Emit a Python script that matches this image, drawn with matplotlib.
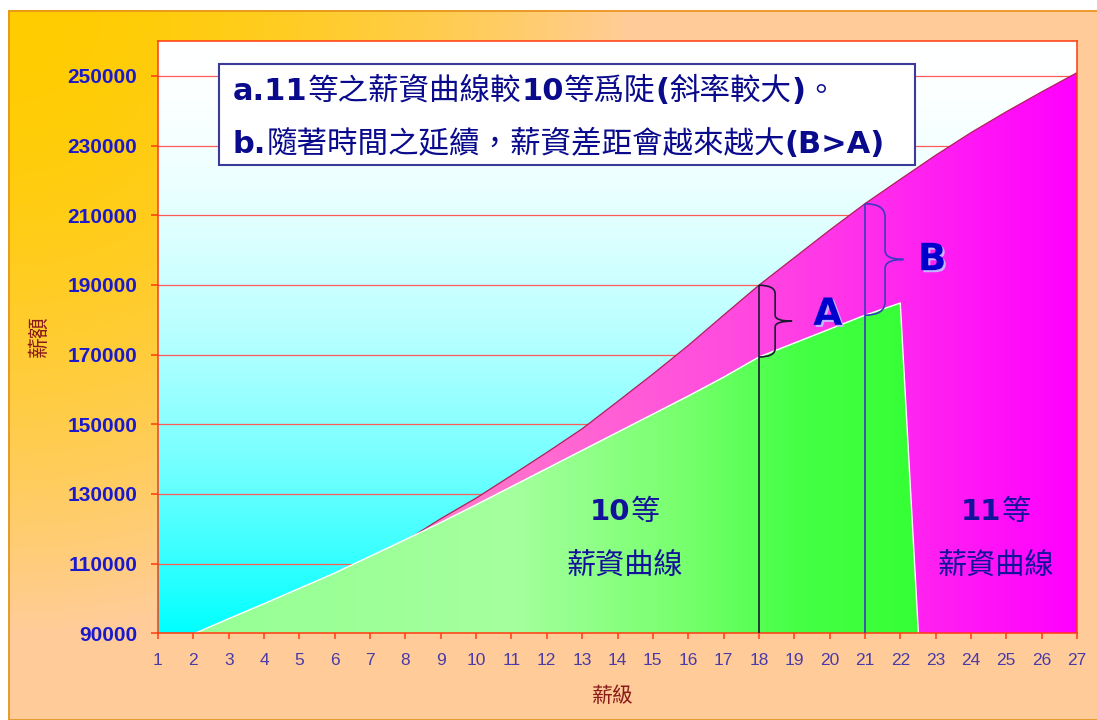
import numpy as np
import matplotlib
matplotlib.use("Agg")
import matplotlib.pyplot as plt
import matplotlib.patheffects as pe
from matplotlib.patches import Rectangle, PathPatch, Polygon
from matplotlib.path import Path

CJK = ['Noto Sans CJK TC', 'DejaVu Sans']
plt.rcParams['font.family'] = CJK

# salary grade (薪級) and monthly pay (薪額) for the two ranks
grades = list(range(1, 28))
pay_rank10 = [86000, 89800, 94200, 98500, 102900, 107300, 112100, 116900, 121800,
              126900, 132100, 137300, 142500, 147700, 152900, 158100, 163500,
              169300, 173300, 177300, 181300, 184800, 0, 0, 0, 0, 0]
pay_rank11 = [85000, 89000, 93500, 97800, 102300, 106800, 111500, 116500, 122900,
              128800, 135300, 141900, 148700, 156500, 164400, 172600, 181300,
              189900, 197800, 205700, 213300, 220300, 227200, 233700, 239700,
              245400, 250900]
gap_grades = [18, 21]          # where the gaps A and B are measured
gap_labels = ['A', 'B']
y_ticks = list(range(90000, 260000, 20000))

W, H = 1097, 720
fig = plt.figure(figsize=(W / 100, H / 100), dpi=100)
fig.patch.set_facecolor('white')

# outer chart area: gold corner fading to peach
yy, xx = np.mgrid[0:H, 0:W]
t = np.clip(np.hypot(xx - 8, yy - 10) / 620.0, 0, 1) ** 1.8
gold = np.array([255, 204, 0.0])
peach = np.array([255, 204, 153.0])
bg = gold + (peach - gold) * t[..., None]
bg[(xx < 8) | (yy < 10)] = 255
fig.figimage(bg.astype(np.uint8), xo=0, yo=0, origin='upper', zorder=-2)
fig.add_artist(Rectangle((8.5 / W, 0), 1, (H - 10.5) / H, transform=fig.transFigure,
                         fill=False, edgecolor='#e8901c', lw=1.2, zorder=-1))

ax = fig.add_axes([158 / W, (H - 633.3) / H, 919 / W, 592.3 / H])
ax.set_zorder(2)
ax.set_facecolor('none')
x0, x1, y0, y1 = 1, 27, 90000, 260000

# plot area: cyan at the bottom fading to white at the top
f = np.linspace(0, 1, 256)
col = np.stack([255 * (1 - (1 - f) ** 1.8), np.full_like(f, 255), np.full_like(f, 255)], axis=1)
ax.imshow(col[:, None, :] / 255.0, extent=[x0, x1, y0, y1],
          origin='lower', aspect='auto', zorder=0, interpolation='bilinear')


def gradient_area(xs, ys, stops_x, stops_rgb, z):
    gx = np.linspace(x0, x1, 512)
    rgb = np.stack([np.interp(gx, stops_x, [c[i] for c in stops_rgb]) for i in range(3)], axis=1)
    img = ax.imshow(rgb[None, :, :] / 255.0, extent=[x0, x1, 0, y1], origin='lower',
                    aspect='auto', zorder=z, interpolation='bilinear')
    verts = [(xs[0], 0)] + list(zip(xs, ys)) + [(xs[-1], 0)]
    poly = Polygon(verts, closed=True, facecolor='none', edgecolor='none', transform=ax.transData)
    img.set_clip_path(poly)
    return img


gradient_area(grades, pay_rank11, [1, 9, 18, 27],
              [(255, 175, 195), (255, 125, 200), (255, 70, 225), (255, 0, 255)], 1)
ax.plot(grades, pay_rank11, color='#b0205a', lw=0.9, zorder=1.5)
gradient_area(grades, pay_rank10, [1, 6, 11, 16, 19, 23],
              [(150, 255, 150), (155, 255, 150), (165, 255, 158), (118, 255, 108),
               (70, 255, 70), (50, 255, 50)], 2)
ax.plot(grades, pay_rank10, color='white', lw=1.0, zorder=2.5)

ax.set_xlim(x0, x1)
ax.set_ylim(y0, y1)
ax.set_xticks(grades)
ax.set_yticks(y_ticks)
ax.set_axisbelow(True)
ax.yaxis.grid(True, color='#ff5a5a', lw=0.9, zorder=0.5)
for s in ax.spines.values():
    s.set_color('#ff3a10')
    s.set_linewidth(1.1)
ax.tick_params(axis='both', direction='out', color='#ff3a10', width=1.1)
ax.tick_params(axis='y', length=5, pad=10)
ax.tick_params(axis='x', length=4.5, pad=10)
for lab in ax.get_yticklabels():
    lab.set_fontfamily(['Liberation Sans'])
    lab.set_fontweight('bold')
    lab.set_fontsize(15)
    lab.set_color('#1a1acc')
for lab in ax.get_xticklabels():
    lab.set_fontfamily(['Liberation Sans'])
    lab.set_fontsize(12.5)
    lab.set_color('#4a3aa8')

fig.text(613 / W, 1 - 696 / H, '薪級', ha='center', va='center', fontsize=15, color='#8b1a1a')
fig.text(39 / W, 1 - 336 / H, '薪額', ha='center', va='center', fontsize=15, color='#8b1a1a',
         rotation=90)

# gap lines and braces
line_cols = ['#1a1a33', '#3a3ac0']
brace_w = [(0.46, 0.94), (0.57, 1.09)]
for g, c, (bw, tip) in zip(gap_grades, line_cols, brace_w):
    top = pay_rank11[g - 1]
    bot = pay_rank10[g - 1]
    ax.vlines(g, 0, top, color=c, lw=1.2, zorder=3)
    mid = (top + bot) / 2
    curl = (top - bot) * 0.12
    nib = (top - bot) * 0.08
    verts = [(g, top), (g + bw, top), (g + bw, top - curl),
             (g + bw, mid + nib), (g + bw, mid), (g + tip, mid),
             (g + bw, mid), (g + bw, mid - nib),
             (g + bw, bot + curl), (g + bw, bot), (g, bot)]
    codes = [Path.MOVETO, Path.CURVE3, Path.CURVE3, Path.LINETO, Path.CURVE3, Path.CURVE3,
             Path.CURVE3, Path.CURVE3, Path.LINETO, Path.CURVE3, Path.CURVE3]
    ax.add_patch(PathPatch(Path(verts, codes), fill=False, edgecolor=c, lw=1.2, zorder=3))

shadow = [pe.SimplePatchShadow(offset=(1.5, -1.5), shadow_rgbFace='#c4b4ff', alpha=1), pe.Normal()]
ax.text(19.95, 181400, gap_labels[0], ha='center', va='center', fontsize=27, weight='bold',
        family=['DejaVu Sans'], color='#0000cc', zorder=4, path_effects=shadow)
ax.text(22.9, 197100, gap_labels[1], ha='center', va='center', fontsize=27, weight='bold',
        family=['DejaVu Sans'], color='#0000cc', zorder=4, path_effects=shadow)


def text_runs(x, y, runs, size, color, transform, center=False):
    # bold runs in DejaVu Sans Bold, the rest in the CJK face, on one baseline
    r = fig.canvas.get_renderer()
    px, py = transform.transform((x, y))
    items = []
    for s, bold in runs:
        tx = fig.text(0, 0, s, fontsize=size, color=color, va='baseline', ha='left',
                      family=['DejaVu Sans'] if bold else CJK,
                      weight='bold' if bold else 'normal', zorder=6)
        items.append((tx, tx.get_window_extent(r).width))
    if center:
        px -= sum(w for _, w in items) / 2
    inv = fig.transFigure.inverted()
    for tx, w in items:
        tx.set_position(inv.transform((px, py)))
        px += w


# note box
ax.add_patch(Rectangle((0.0664, 0.7907), 0.7573, 0.1705, transform=ax.transAxes,
                       facecolor='white', edgecolor='#3a3a9a', lw=1.5, zorder=5))
text_runs(0.0816, 0.9012, [('a.11', True), ('等之薪資曲線較', False), ('10', True),
                           ('等爲陡', False), ('(', True), ('斜率較大', False), (')', True),
                           ('。', False)], 22, '#0a0a8c', ax.transAxes)
text_runs(0.0816, 0.8101, [('b.', True), ('隨著時間之延續，薪資差距會越來越大', False),
                           ('(B>A)', True)], 22, '#0a0a8c', ax.transAxes)

# rank captions inside the areas
for cx, rank in [(14.21, '10'), (24.70, '11')]:
    text_runs(cx, 122430, [(rank, True), ('等', False)], 21, '#12129a', ax.transData, center=True)
    text_runs(cx, 106970, [('薪資曲線', False)], 21, '#12129a', ax.transData, center=True)

fig.savefig('out.png', dpi=100)
